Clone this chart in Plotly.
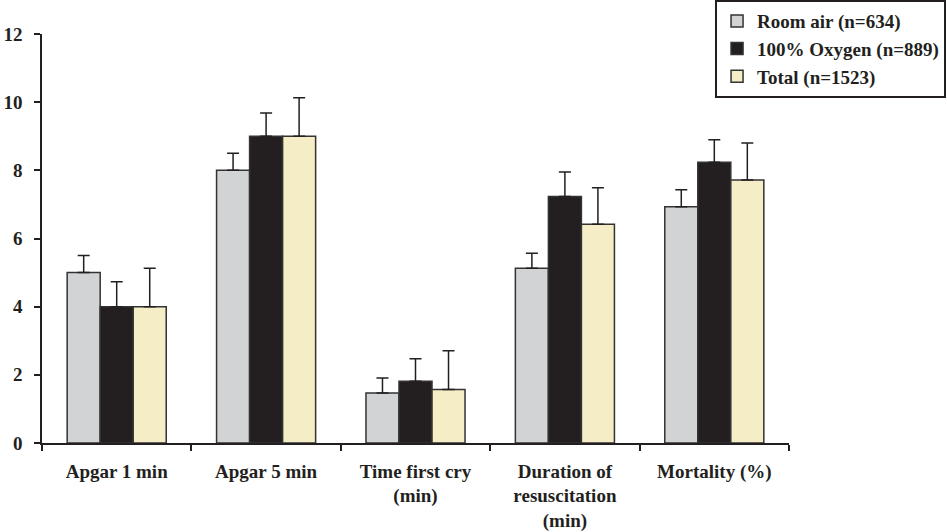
import plotly.graph_objects as go

categories = ["Apgar 1 min", "Apgar 5 min", "Time first cry<br>(min)",
              "Duration of<br>resuscitation<br>(min)", "Mortality (%)"]
series_names = ["Room air (n=634)", "100% Oxygen (n=889)", "Total (n=1523)"]
room_air = [5.0, 8.0, 1.47, 5.13, 6.93]
room_air_err = [0.5, 0.5, 0.44, 0.44, 0.5]
oxygen = [4.0, 9.0, 1.81, 7.23, 8.24]
oxygen_err = [0.73, 0.68, 0.66, 0.72, 0.66]
total = [4.0, 9.0, 1.57, 6.42, 7.72]
total_err = [1.13, 1.13, 1.14, 1.07, 1.08]
y_ticks = [0, 2, 4, 6, 8, 10, 12]

colors = ["#d1d3d4", "#231f20", "#f5edc6"]
values = [room_air, oxygen, total]
errors = [room_air_err, oxygen_err, total_err]

font_family = "Liberation Serif"
fsize = 19

fig = go.Figure()
for name, vals, errs, col in zip(series_names, values, errors, colors):
    fig.add_trace(go.Bar(
        x=categories, y=vals, name=name,
        marker=dict(color=col, line=dict(color="#333333", width=1.5)),
        error_y=dict(type="data", symmetric=False, array=errs,
                     arrayminus=[0] * len(errs), color="#231f20",
                     thickness=1.5, width=6),
    ))

fig.update_layout(
    width=947, height=532,
    margin=dict(l=42, r=158, t=34, b=89, autoexpand=False),
    paper_bgcolor="white", plot_bgcolor="white",
    barmode="group", bargap=0.337, bargroupgap=0,
    font=dict(family=font_family, size=fsize, color="#231f20", weight="bold"),
    showlegend=True,
    legend=dict(x=0.901, y=1.083, xanchor="left", yanchor="top",
                bordercolor="#231f20", borderwidth=2, bgcolor="white",
                font=dict(family=font_family, size=fsize, color="#231f20", weight="bold"),
                tracegroupgap=0, itemwidth=30),
)
fig.update_xaxes(
    showline=True, linecolor="#231f20", linewidth=1.5,
    ticks="outside", tickson="boundaries", ticklen=6, tickcolor="#231f20",
    tickwidth=1.5, showgrid=False, zeroline=False,
    tickfont=dict(family=font_family, size=fsize, color="#231f20", weight="bold"),
    ticklabelstandoff=10,
)
fig.update_yaxes(
    range=[0, 12], tickvals=y_ticks, ticktext=[str(v) for v in y_ticks],
    showline=True, linecolor="#231f20", linewidth=1.5,
    ticks="outside", ticklen=6, tickcolor="#231f20", tickwidth=1.5,
    showgrid=False, zeroline=False,
    tickfont=dict(family=font_family, size=fsize, color="#231f20", weight="bold"),
    ticklabelstandoff=8,
)

fig.write_html("out.html", config={"displayModeBar": False},
               post_script="document.body.style.margin='0';document.body.style.padding='0';")
